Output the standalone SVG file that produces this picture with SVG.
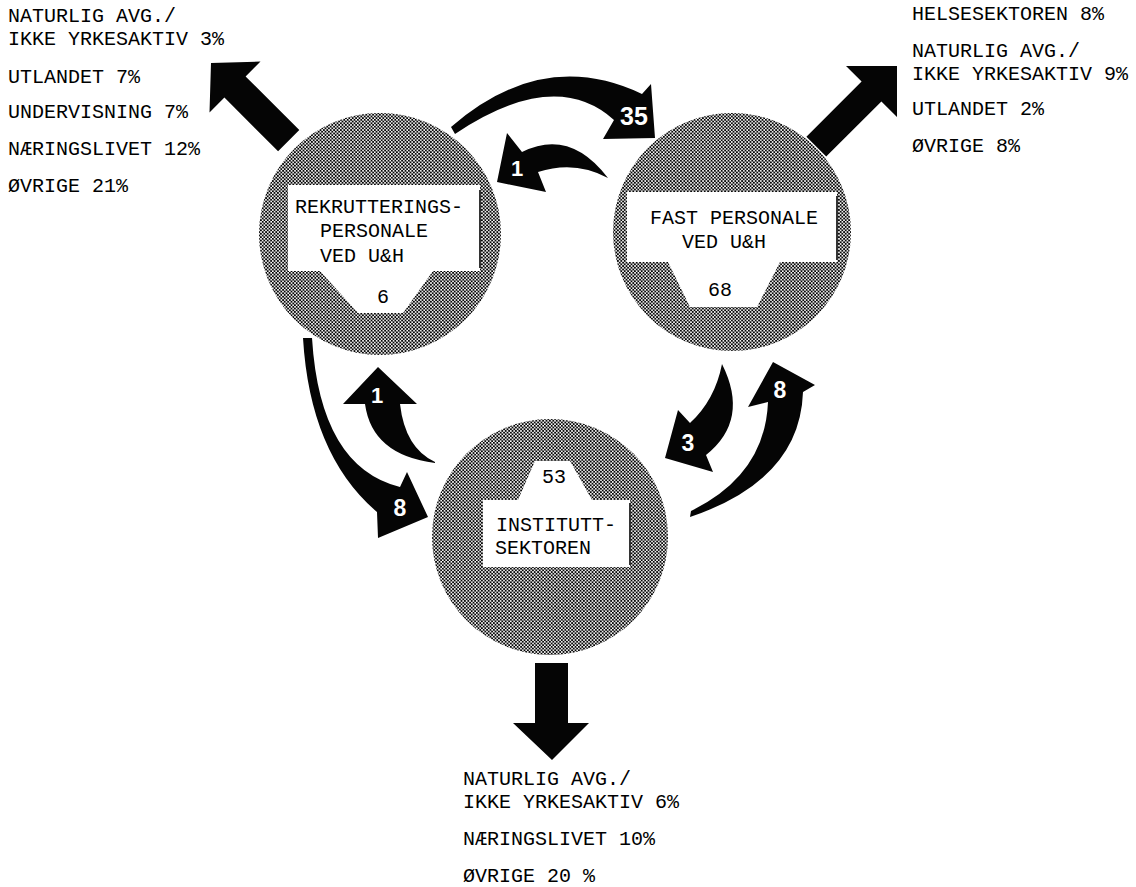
<svg xmlns="http://www.w3.org/2000/svg" width="1136" height="887" viewBox="0 0 1136 887">
<defs>
<pattern id="dots" width="3.4" height="3.4" patternUnits="userSpaceOnUse">
<rect width="3.4" height="3.4" fill="#fff"/>
<circle cx="0.85" cy="0.85" r="1.05" fill="#000"/>
<circle cx="2.55" cy="2.55" r="1.05" fill="#000"/>
</pattern>
<style>
.disc{fill:url(#dots);}
.box{fill:#fff;}
.edge{stroke:#333;stroke-width:2;fill:none;}
.t{font-family:"Liberation Mono","DejaVu Sans Mono",monospace;font-size:20px;fill:#000;}
.arr{fill:#050505;}
.n{font-family:"Liberation Sans",Arial,sans-serif;font-weight:bold;fill:#fff;text-anchor:middle;}
</style>
</defs>
<rect width="1136" height="887" fill="#fff"/>

<g id="connectors">
<path class="arr" d="M 211,63 L 260.5,61.5 L 245.6,76.4 L 299.3,130.1 L 278.1,151.3 L 224.4,97.6 L 209.5,112.5 Z"/>
<path class="arr" d="M 897,66 L 897,117 L 881.4,101.4 L 826.2,156.6 L 806.4,136.8 L 861.6,81.6 L 846,66 Z"/>
<path class="arr" d="M 535,663 L 568,663 L 568,723 L 589,723 L 552,760 L 513,723 L 535,723 Z"/>
<path class="arr" d="M 451,127 Q 543,47 642,94 L 651,84 L 655,138 L 603,139 L 614,120 Q 555,67 455,134 Z"/>
<path class="arr" d="M 608,178 Q 570,128 522,152 L 507,133 L 497,182 L 546,192 L 538,172 Q 575,160 608,178 Z"/>
<path class="arr" d="M 303,338 Q 310,455 377,512 L 378,538 L 428,517 L 407,472 L 400,487 Q 320,467 312,338 Z"/>
<path class="arr" d="M 435,463 Q 372,455 365,404 L 343,404 L 378,367 L 417,404 L 400,404 Q 405,448 435,462 Z"/>
<path class="arr" d="M 722,364 Q 750,420 706,455 L 713,472 L 665,458 L 678,410 L 690,423 Q 715,400 722,364 Z"/>
<path class="arr" d="M 690,517 Q 800,480 803,392 L 815,385 L 773,362 L 748,407 L 768,402 Q 765,475 691,511 Z"/>
<text class="n" x="634" y="125" font-size="25">35</text>
<text class="n" x="517" y="176" font-size="22">1</text>
<text class="n" x="400" y="516" font-size="23">8</text>
<text class="n" x="377" y="403" font-size="22">1</text>
<text class="n" x="688" y="451" font-size="23">3</text>
<text class="n" x="780" y="398" font-size="23">8</text>
</g>

<g id="node-rekruttering">
<circle class="disc" cx="380" cy="234" r="121"/>
<polygon class="box" points="288,185 480,185 480,271 433,271 403,313 358,313 320,271 288,271"/>
<line class="edge" x1="480" y1="190" x2="480" y2="268"/>
<text class="t" x="295" y="213">REKRUTTERINGS-</text>
<text class="t" x="320" y="237">PERSONALE</text>
<text class="t" x="320" y="262">VED U&amp;H</text>
<text class="t" x="377" y="303">6</text>
</g>

<g id="node-fast">
<circle class="disc" cx="732" cy="232" r="119"/>
<polygon class="box" points="627,192 837,192 837,262 780,262 757,307 690,307 668,262 627,262"/>
<line class="edge" x1="837" y1="196" x2="837" y2="260"/>
<text class="t" x="650" y="224">FAST PERSONALE</text>
<text class="t" x="682" y="248">VED U&amp;H</text>
<text class="t" x="708" y="296">68</text>
</g>

<g id="node-institutt">
<circle class="disc" cx="550" cy="537" r="118"/>
<polygon class="box" points="483,500 518,500 535,461 570,461 592,500 630,500 630,567 483,567"/>
<line class="edge" x1="630" y1="503" x2="630" y2="565"/>
<text class="t" x="542" y="483">53</text>
<text class="t" x="496" y="531">INSTITUTT-</text>
<text class="t" x="495" y="554">SEKTOREN</text>
</g>

<g id="out-left">
<text class="t" x="8" y="22">NATURLIG AVG./</text>
<text class="t" x="8" y="45">IKKE YRKESAKTIV 3%</text>
<text class="t" x="8" y="83">UTLANDET 7%</text>
<text class="t" x="8" y="118">UNDERVISNING 7%</text>
<text class="t" x="8" y="155">NÆRINGSLIVET 12%</text>
<text class="t" x="8" y="192">ØVRIGE 21%</text>
</g>

<g id="out-right">
<text class="t" x="912" y="20">HELSESEKTOREN 8%</text>
<text class="t" x="912" y="57">NATURLIG AVG./</text>
<text class="t" x="912" y="80">IKKE YRKESAKTIV 9%</text>
<text class="t" x="912" y="115">UTLANDET 2%</text>
<text class="t" x="912" y="152">ØVRIGE 8%</text>
</g>

<g id="out-bottom">
<text class="t" x="463" y="785">NATURLIG AVG./</text>
<text class="t" x="463" y="808">IKKE YRKESAKTIV 6%</text>
<text class="t" x="463" y="845">NÆRINGSLIVET 10%</text>
<text class="t" x="463" y="882">ØVRIGE 20 %</text>
</g>
</svg>
